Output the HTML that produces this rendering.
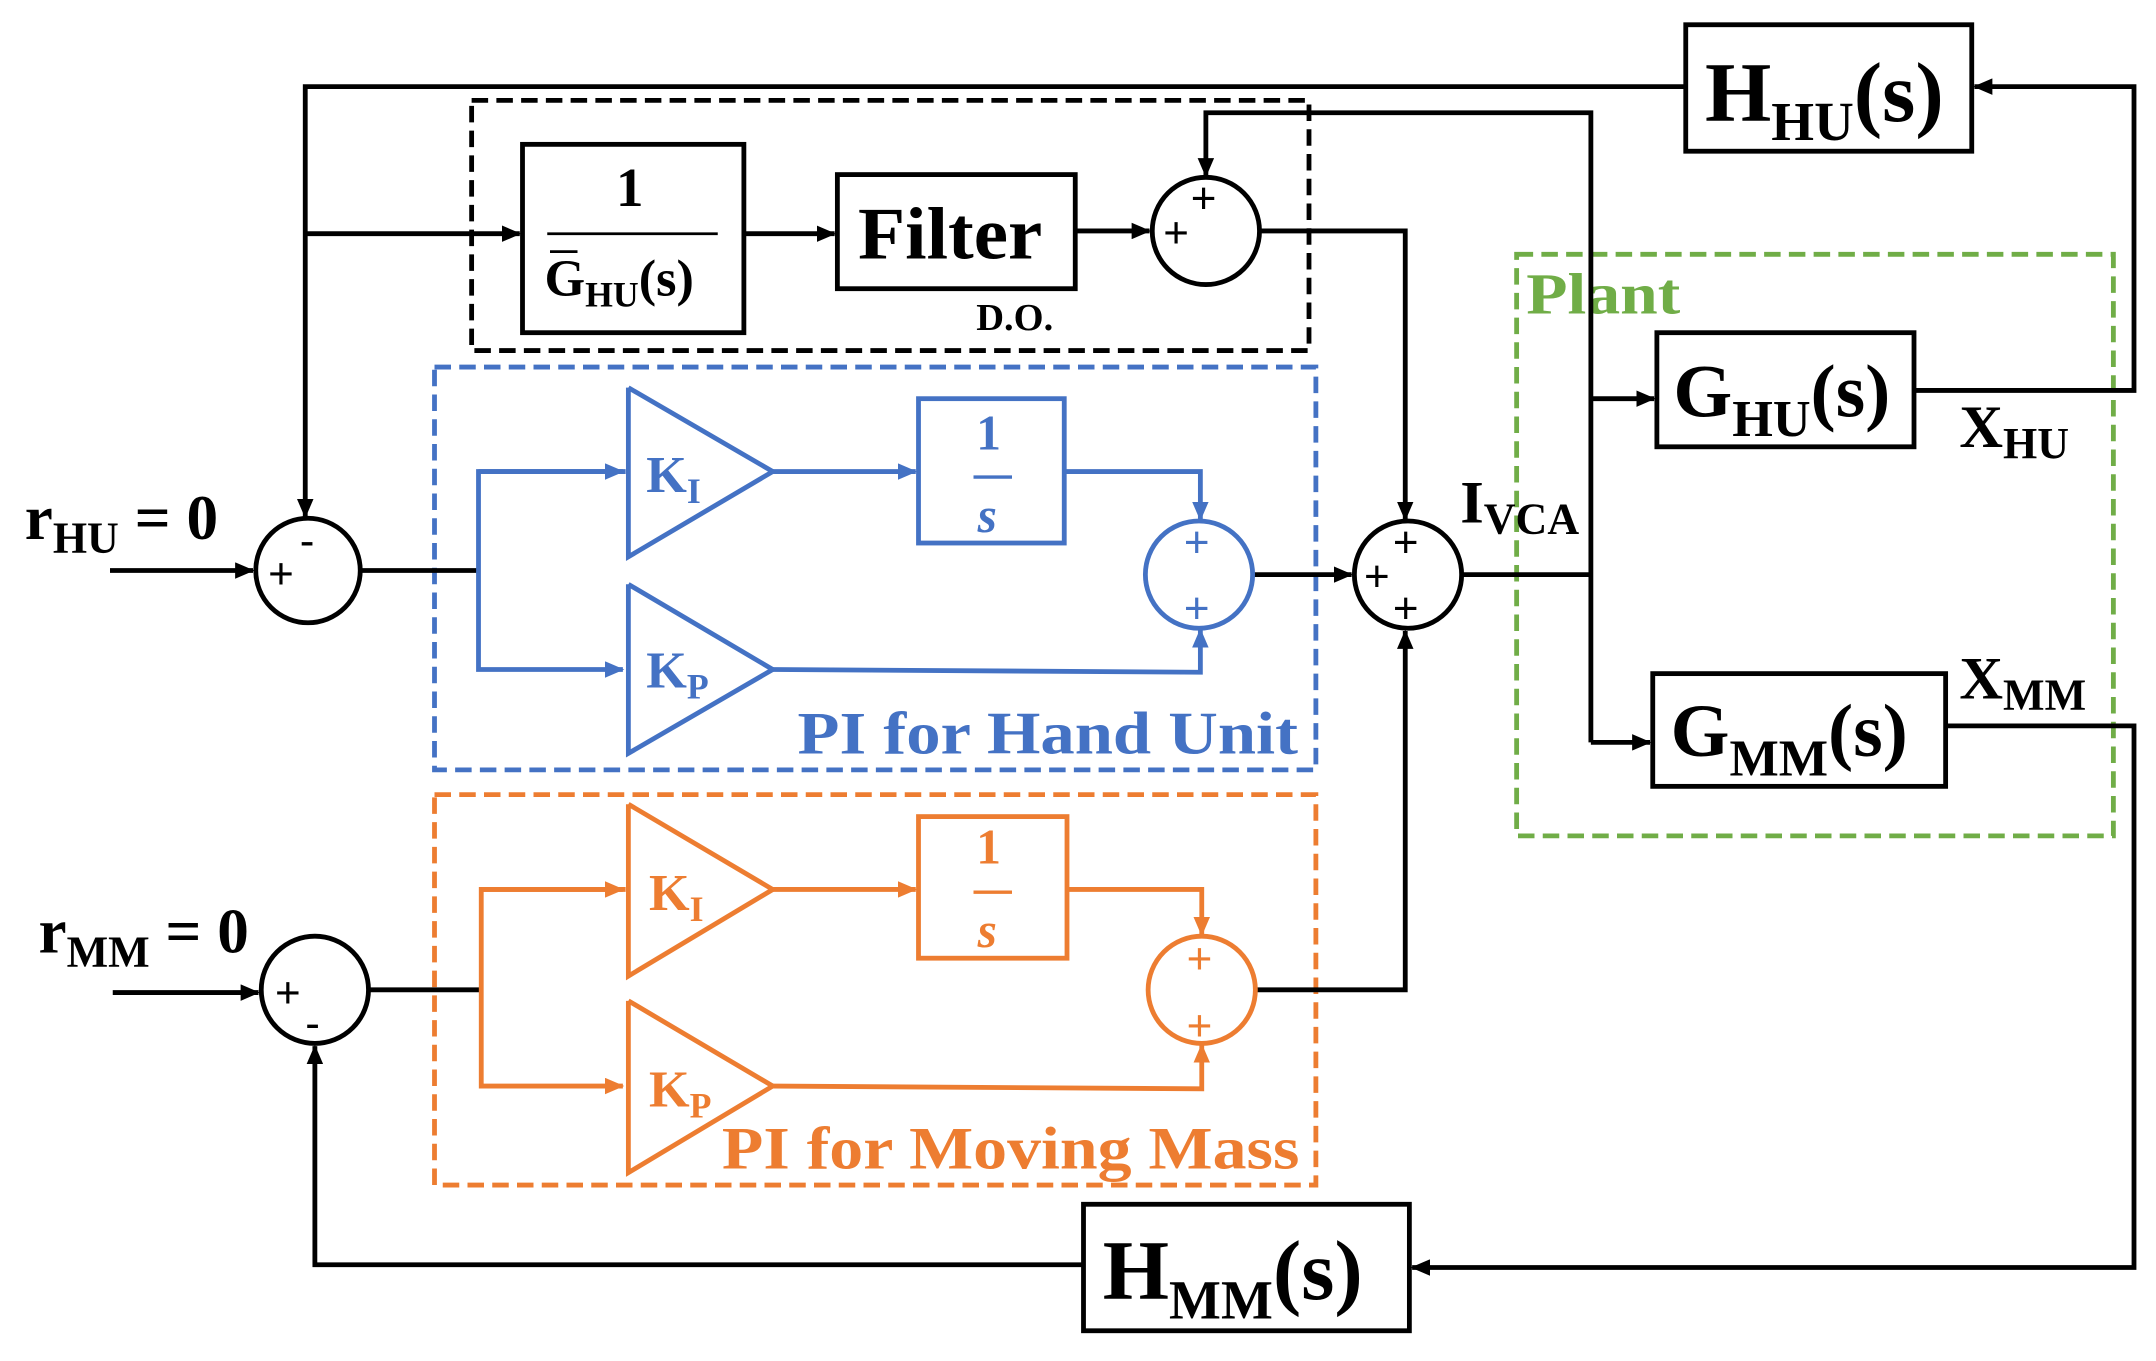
<!DOCTYPE html>
<html><head><meta charset="utf-8"><style>
html,body{margin:0;padding:0;background:#fff;}
svg{display:block;}
text{font-family:"Liberation Serif",serif;font-weight:bold;}
</style></head><body>
<svg width="2156" height="1361" viewBox="0 0 1568 990" preserveAspectRatio="none" xmlns="http://www.w3.org/2000/svg">
<defs>
<marker id="ak" markerWidth="14" markerHeight="12" refX="13" refY="6" orient="auto" markerUnits="userSpaceOnUse"><path d="M0,0 L14,6 L0,12 z" fill="#000"/></marker>
<marker id="ab" markerWidth="14" markerHeight="12" refX="13" refY="6" orient="auto" markerUnits="userSpaceOnUse"><path d="M0,0 L14,6 L0,12 z" fill="#4472C4"/></marker>
<marker id="ao" markerWidth="14" markerHeight="12" refX="13" refY="6" orient="auto" markerUnits="userSpaceOnUse"><path d="M0,0 L14,6 L0,12 z" fill="#ED7D31"/></marker>
</defs>
<rect x="343" y="73" width="609" height="182" fill="none" stroke="#000" stroke-width="3.5" stroke-dasharray="12,6"/>
<rect x="316" y="267" width="641" height="293" fill="none" stroke="#4472C4" stroke-width="3.5" stroke-dasharray="12,6"/>
<rect x="316" y="578" width="641" height="284" fill="none" stroke="#ED7D31" stroke-width="3.5" stroke-dasharray="12,6"/>
<rect x="1103" y="185" width="434" height="423" fill="none" stroke="#70AD47" stroke-width="3.5" stroke-dasharray="12,6"/>
<text x="1110" y="228" font-size="42" fill="#70AD47" textLength="112" lengthAdjust="spacingAndGlyphs">Plant</text>

<g fill="none" stroke="#000" stroke-width="3.5">
<rect x="1226" y="18" width="208" height="92" fill="#fff"/>
<rect x="380" y="105" width="161" height="137"/>
<rect x="609" y="127" width="173" height="83"/>
<rect x="1205" y="242" width="187" height="83" fill="#fff"/>
<rect x="1202" y="490" width="213" height="82" fill="#fff"/>
<rect x="788" y="876" width="237" height="92"/>
<circle cx="224" cy="415" r="38"/>
<circle cx="229" cy="720" r="39"/>
<circle cx="877" cy="168" r="39"/>
<circle cx="1024" cy="418" r="39"/>
<polyline points="1226,63 222,63 222,376" marker-end="url(#ak)"/>
<polyline points="222,170 378,170" marker-end="url(#ak)"/>
<polyline points="541,170 607,170" marker-end="url(#ak)"/>
<polyline points="782,168 836,168" marker-end="url(#ak)"/>
<polyline points="1157,540 1157,82 877,82 877,128" marker-end="url(#ak)"/>
<polyline points="1157,290 1203,290" marker-end="url(#ak)"/>
<polyline points="1157,540 1200,540" marker-end="url(#ak)"/>
<polyline points="916,168 1022,168 1022,378" marker-end="url(#ak)"/>
<polyline points="1063,418 1157,418"/>
<polyline points="1392,284 1552,284 1552,63 1436,63" marker-end="url(#ak)"/>
<polyline points="1415,528 1552,528 1552,922 1027,922" marker-end="url(#ak)"/>
<polyline points="788,920 229,920 229,761" marker-end="url(#ak)"/>
<polyline points="80,415 184,415" marker-end="url(#ak)"/>
<polyline points="82,722 188,722" marker-end="url(#ak)"/>
<polyline points="263,415 348,415"/>
<polyline points="268,720 350,720"/>
<polyline points="911,418 983,418" marker-end="url(#ak)"/>
<polyline points="913,720 1022,720 1022,459" marker-end="url(#ak)"/>
<line x1="398" y1="170" x2="522" y2="170" stroke-width="2"/>
</g>
<g fill="none" stroke="#4472C4" stroke-width="3.5">
<polyline points="455,343 348,343 348,487 453,487" marker-end="url(#ab)"/>
<polyline points="457,282 457,405 562,343 457,282" fill="#fff"/>
<polyline points="457,425 457,548 562,487 457,425" fill="#fff"/>
<line x1="348" y1="343" x2="453" y2="343" marker-end="url(#ab)"/>
<line x1="562" y1="343" x2="666" y2="343" marker-end="url(#ab)"/>
<rect x="668" y="290" width="106" height="105"/>
<line x1="708" y1="347" x2="736" y2="347" stroke-width="2.5"/>
<polyline points="774,343 873,343 873,378" marker-end="url(#ab)"/>
<polyline points="562,487 873,489 873,458" marker-end="url(#ab)"/>
<circle cx="872" cy="418" r="39"/>
</g>
<g fill="none" stroke="#ED7D31" stroke-width="3.5">
<polyline points="455,647 350,647 350,790 453,790" marker-end="url(#ao)"/>
<line x1="350" y1="647" x2="453" y2="647" marker-end="url(#ao)"/>
<polyline points="457,585 457,710 562,647 457,585" fill="#fff"/>
<polyline points="457,728 457,853 562,790 457,728" fill="#fff"/>
<line x1="562" y1="647" x2="666" y2="647" marker-end="url(#ao)"/>
<rect x="668" y="594" width="108" height="103"/>
<line x1="708" y1="649" x2="736" y2="649" stroke-width="2.5"/>
<polyline points="776,647 874,647 874,680" marker-end="url(#ao)"/>
<polyline points="562,790 874,792 874,760" marker-end="url(#ao)"/>
<circle cx="874" cy="720" r="39"/>
</g>
<text x="1240" y="88" font-size="62">H<tspan font-size="40" dy="14">HU</tspan><tspan dy="-14">(s)</tspan></text>
<text x="448" y="150" font-size="40">1</text>
<text x="396" y="215" font-size="38">G<tspan font-size="26" dy="8">HU</tspan><tspan dy="-8">(s)</tspan></text>
<line x1="400" y1="183" x2="420" y2="183" stroke="#000" stroke-width="2"/>
<text x="624" y="188" font-size="54" textLength="134" lengthAdjust="spacingAndGlyphs">Filter</text>
<text x="710" y="240" font-size="28">D.O.</text>
<text x="1217" y="303" font-size="55">G<tspan font-size="38" dy="14">HU</tspan><tspan dy="-14">(s)</tspan></text>
<text x="1215" y="550" font-size="55">G<tspan font-size="38" dy="14">MM</tspan><tspan dy="-14">(s)</tspan></text>
<text x="802" y="945" font-size="62">H<tspan font-size="40" dy="14">MM</tspan><tspan dy="-14">(s)</tspan></text>
<text x="1425" y="325" font-size="44">X<tspan font-size="32" dy="8">HU</tspan></text>
<text x="1425" y="508" font-size="44">X<tspan font-size="32" dy="8">MM</tspan></text>
<text x="1062" y="380" font-size="44">I<tspan font-size="32" dy="8">VCA</tspan></text>
<text x="18" y="392" font-size="46">r<tspan font-size="32" dy="10">HU</tspan><tspan dy="-10"> = 0</tspan></text>
<text x="28" y="693" font-size="46">r<tspan font-size="32" dy="10">MM</tspan><tspan dy="-10"> = 0</tspan></text>
<g font-size="32">
<text x="195" y="428" style="font-family:'Liberation Sans';font-weight:normal">+</text>
<text x="218" y="404" style="font-family:'Liberation Sans';font-weight:normal">-</text>
<text x="200" y="733" style="font-family:'Liberation Sans';font-weight:normal">+</text>
<text x="222" y="755" style="font-family:'Liberation Sans';font-weight:normal">-</text>
<text x="866" y="155" style="font-family:'Liberation Sans';font-weight:normal">+</text>
<text x="846" y="180" style="font-family:'Liberation Sans';font-weight:normal">+</text>
<text x="1013" y="405" style="font-family:'Liberation Sans';font-weight:normal">+</text>
<text x="992" y="430" style="font-family:'Liberation Sans';font-weight:normal">+</text>
<text x="1013" y="453" style="font-family:'Liberation Sans';font-weight:normal">+</text>
<text x="861" y="405" fill="#4472C4" style="font-family:'Liberation Sans';font-weight:normal">+</text>
<text x="861" y="453" fill="#4472C4" style="font-family:'Liberation Sans';font-weight:normal">+</text>
<text x="863" y="708" fill="#ED7D31" style="font-family:'Liberation Sans';font-weight:normal">+</text>
<text x="863" y="757" fill="#ED7D31" style="font-family:'Liberation Sans';font-weight:normal">+</text>
</g>
<g fill="#4472C4">
<text x="470" y="358" font-size="38">K<tspan font-size="26" dy="8">I</tspan></text>
<text x="470" y="500" font-size="38">K<tspan font-size="26" dy="8">P</tspan></text>
<text x="710" y="327" font-size="36">1</text>
<text x="711" y="387" font-size="36" font-style="italic">s</text>
<text x="580" y="548" font-size="44" textLength="364" lengthAdjust="spacingAndGlyphs">PI for Hand Unit</text>
</g>
<g fill="#ED7D31">
<text x="472" y="662" font-size="38">K<tspan font-size="26" dy="8">I</tspan></text>
<text x="472" y="805" font-size="38">K<tspan font-size="26" dy="8">P</tspan></text>
<text x="710" y="628" font-size="36">1</text>
<text x="711" y="689" font-size="36" font-style="italic">s</text>
<text x="525" y="850" font-size="44" textLength="420" lengthAdjust="spacingAndGlyphs">PI for Moving Mass</text>
</g>
</svg>
</body></html>
